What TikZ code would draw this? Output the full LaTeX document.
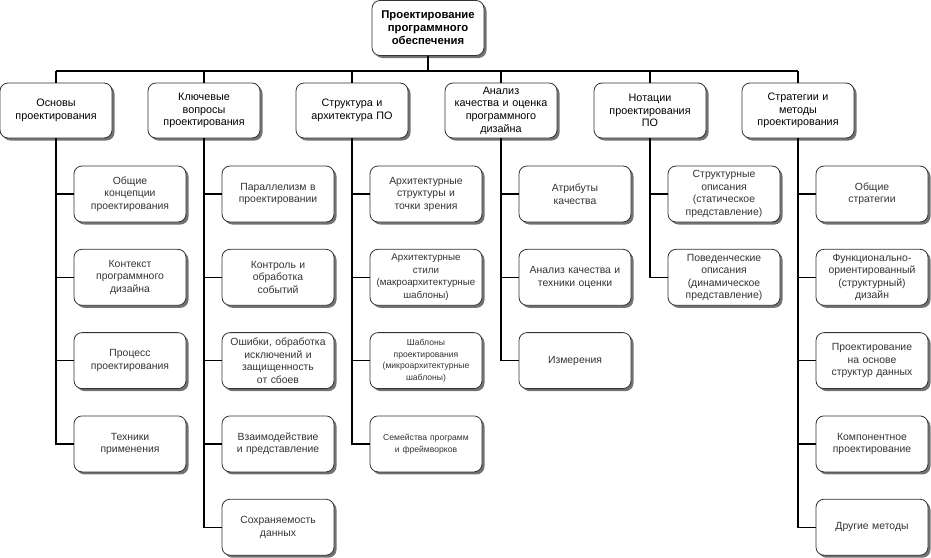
\documentclass[tikz,border=0pt]{standalone}
\usepackage{fontspec}
\setmainfont{Liberation Sans}
\usetikzlibrary{shadows}
\begin{document}
\begin{tikzpicture}[x=1pt,y=-1pt,
  box/.style={draw=black!80, line width=0.8pt, fill=white, rounded corners=8pt,
    minimum width=112pt, minimum height=55pt, align=center, text width=110pt,
    inner sep=0.5pt, font=\fontsize{10.8}{12.6}\selectfont,
    drop shadow={shadow xshift=2.5pt, shadow yshift=-2.5pt, fill=black!55, opacity=1}},
  topbox/.style={box, font=\bfseries\fontsize{11.3}{13}\selectfont},
  kid/.style={box, minimum height=56pt, text=black!80, font=\fontsize{10.4}{12.5}\selectfont},
  smallkid/.style={kid, font=\fontsize{8.6}{11.7}\selectfont},
  conn/.style={line width=1.3pt, black}]
\useasboundingbox (0,0) rectangle (931,557);
\coordinate (bus) at (0,71);

\node[topbox] (root) at (428,28) {Проектирование\\программного\\обеспечения};

\node[box] (L1) at (56,110.5) {Основы\\проектирования};
\node[box] (L2) at (204,110.5) {Ключевые\\вопросы\\проектирования};
\node[box] (L3) at (352,110.5) {Структура и\\архитектура ПО};
\node[box] (L4) at (501,110.5) {Анализ\\качества и оценка\\программного\\дизайна};
\node[box] (L5) at (650,110.5) {Нотации\\проектирования\\ПО};
\node[box] (L6) at (798,110.5) {Стратегии и\\методы\\проектирования};

% column 1
\node[kid] (a1) at (130,194) {Общие\\концепции\\проектирования};
\node[kid] (a2) at (130,277.3) {Контекст\\программного\\дизайна};
\node[kid] (a3) at (130,360.6) {Процесс\\проектирования};
\node[kid] (a4) at (130,443.9) {Техники\\применения};
% column 2
\node[kid] (b1) at (278,194) {Параллелизм в\\проектировании};
\node[kid] (b2) at (278,277.3) {Контроль и\\обработка\\событий};
\node[kid] (b3) at (278,360.6) {Ошибки, обработка\\исключений и\\защищенность\\от сбоев};
\node[kid] (b4) at (278,443.9) {Взаимодействие\\и представление};
\node[kid] (b5) at (278,527.2) {Сохраняемость\\данных};
% column 3
\node[kid] (c1) at (426,194) {Архитектурные\\структуры и\\точки зрения};
\node[kid, font=\fontsize{9.8}{12.5}\selectfont] (c2) at (426,277.3) {Архитектурные\\стили\\(макроархитектурные\\шаблоны)};
\node[smallkid] (c3) at (426,360.6) {Шаблоны\\проектирования\\(микроархитектурные\\шаблоны)};
\node[smallkid] (c4) at (426,443.9) {Семейства программ\\и фреймворков};
% column 4
\node[kid] (d1) at (575,194) {Атрибуты\\качества};
\node[kid] (d2) at (575,277.3) {Анализ качества и\\техники оценки};
\node[kid] (d3) at (575,360.6) {Измерения};
% column 5
\node[kid] (e1) at (724,194) {Структурные\\описания\\(статическое\\представление)};
\node[kid] (e2) at (724,277.3) {Поведенческие\\описания\\(динамическое\\представление)};
% column 6
\node[kid] (f1) at (872,194) {Общие\\стратегии};
\node[kid] (f2) at (872,277.3) {Функционально-\\ориентированный\\(структурный)\\дизайн};
\node[kid] (f3) at (872,360.6) {Проектирование\\на основе\\структур данных};
\node[kid] (f4) at (872,443.9) {Компонентное\\проектирование};
\node[kid] (f5) at (872,527.2) {Другие методы};

% connectors top
\draw[conn] (root.south) -- (root.south |- bus);
\draw[conn] (L1.north |- bus) -- (L6.north |- bus);
\foreach \n in {L1,L2,L3,L4,L5,L6} \draw[conn] (\n.north |- bus) -- (\n.north);

% spines
\draw[conn] (L1.south) |- (a4.west);
\foreach \k in {a1,a2,a3} \draw[conn] (L1.south |- \k.west) -- (\k.west);
\draw[conn] (L2.south) |- (b5.west);
\foreach \k in {b1,b2,b3,b4} \draw[conn] (L2.south |- \k.west) -- (\k.west);
\draw[conn] (L3.south) |- (c4.west);
\foreach \k in {c1,c2,c3} \draw[conn] (L3.south |- \k.west) -- (\k.west);
\draw[conn] (L4.south) |- (d3.west);
\foreach \k in {d1,d2} \draw[conn] (L4.south |- \k.west) -- (\k.west);
\draw[conn] (L5.south) |- (e2.west);
\draw[conn] (L5.south |- e1.west) -- (e1.west);
\draw[conn] (L6.south) |- (f5.west);
\foreach \k in {f1,f2,f3,f4} \draw[conn] (L6.south |- \k.west) -- (\k.west);
\end{tikzpicture}
\end{document}
